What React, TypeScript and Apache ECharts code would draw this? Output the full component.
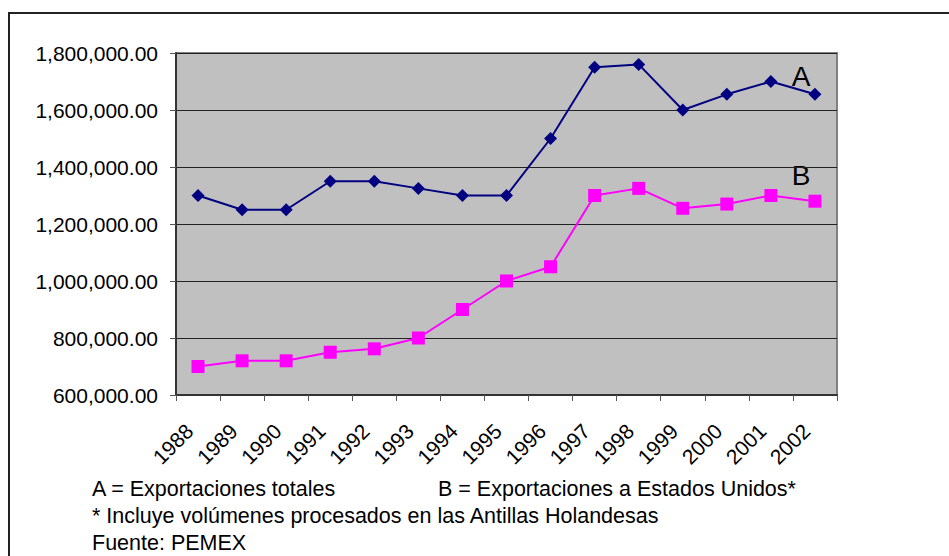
import React, { useEffect, useRef } from "react";
import * as echarts from "echarts";

const years = ["1988", "1989", "1990", "1991", "1992", "1993", "1994", "1995", "1996", "1997", "1998", "1999", "2000", "2001", "2002"];
const totalExports = [1300000, 1250000, 1250000, 1350000, 1350000, 1325000, 1300000, 1300000, 1500000, 1750000, 1760000, 1600000, 1655000, 1700000, 1655000];
const usExports = [700000, 720000, 720000, 750000, 762000, 800000, 900000, 1000000, 1050000, 1300000, 1325000, 1255000, 1270000, 1300000, 1280000];
const noteLines = [
  "* Incluye volúmenes procesados en las Antillas Holandesas",
  "Fuente: PEMEX",
];
const legendA = "A = Exportaciones totales";
const legendB = "B = Exportaciones a Estados Unidos*";

const FONT = "'Liberation Sans', Arial, sans-serif";

export default function App() {
  const ref = useRef<HTMLDivElement>(null);
  useEffect(() => {
    document.body.style.margin = "0";
    const chart = echarts.init(ref.current!, null, { renderer: "svg" });
    chart.setOption({
      animation: false,
      backgroundColor: "#ffffff",
      textStyle: { fontFamily: FONT },
      grid: {
        left: 176,
        right: 112,
        top: 53,
        bottom: 161,
        show: true,
        backgroundColor: "#C0C0C0",
        borderColor: "#808080",
        borderWidth: 2,
      },
      xAxis: {
        type: "category",
        data: years,
        boundaryGap: true,
        axisLine: { lineStyle: { color: "#333333", width: 2 } },
        axisTick: { show: true, length: 6, lineStyle: { color: "#555555", width: 1 } },
        axisLabel: {
          rotate: 45,
          interval: 0,
          margin: 24,
          padding: [0, 12, 0, 0],
          color: "#000000",
          fontSize: 21,
          fontFamily: FONT,
        },
        splitLine: { show: false },
      },
      yAxis: {
        type: "value",
        min: 600000,
        max: 1800000,
        interval: 200000,
        axisLine: { show: true, lineStyle: { color: "#333333", width: 2 } },
        axisTick: { show: true, length: 6, lineStyle: { color: "#555555", width: 1 } },
        axisLabel: {
          margin: 18,
          color: "#000000",
          fontSize: 21,
          fontFamily: FONT,
          formatter: (v: number) =>
            v.toLocaleString("en-US", { minimumFractionDigits: 2, maximumFractionDigits: 2 }),
        },
        splitLine: { show: true, lineStyle: { color: "#222222", width: 1 } },
      },
      series: [
        {
          name: "A",
          type: "line",
          data: totalExports,
          symbol: "diamond",
          symbolSize: 13,
          lineStyle: { color: "#000080", width: 2 },
          itemStyle: { color: "#000080" },
        },
        {
          name: "B",
          type: "line",
          data: usExports,
          symbol: "rect",
          symbolSize: 13,
          lineStyle: { color: "#FF00FF", width: 2 },
          itemStyle: { color: "#FF00FF" },
        },
      ],
      graphic: [
        {
          type: "rect",
          shape: { x: 9, y: 13, width: 960, height: 560 },
          style: { fill: "none", stroke: "#222222", lineWidth: 2 },
          silent: true,
        },
        {
          type: "text",
          x: 801,
          y: 76,
          style: { text: "A", fontSize: 28, fontFamily: FONT, fill: "#000", align: "center", verticalAlign: "middle" },
        },
        {
          type: "text",
          x: 801,
          y: 175,
          style: { text: "B", fontSize: 28, fontFamily: FONT, fill: "#000", align: "center", verticalAlign: "middle" },
        },
        {
          type: "text",
          x: 92,
          y: 489,
          style: { text: legendA, fontSize: 21.5, fontFamily: FONT, fill: "#000", verticalAlign: "middle" },
        },
        {
          type: "text",
          x: 438,
          y: 489,
          style: { text: legendB, fontSize: 21.5, fontFamily: FONT, fill: "#000", verticalAlign: "middle" },
        },
        {
          type: "text",
          x: 92,
          y: 516,
          style: { text: noteLines[0], fontSize: 21.5, fontFamily: FONT, fill: "#000", verticalAlign: "middle" },
        },
        {
          type: "text",
          x: 92,
          y: 543,
          style: { text: noteLines[1], fontSize: 21.5, fontFamily: FONT, fill: "#000", verticalAlign: "middle" },
        },
      ],
    });
    return () => chart.dispose();
  }, []);
  return <div ref={ref} style={{ width: 949, height: 556 }} />;
}
